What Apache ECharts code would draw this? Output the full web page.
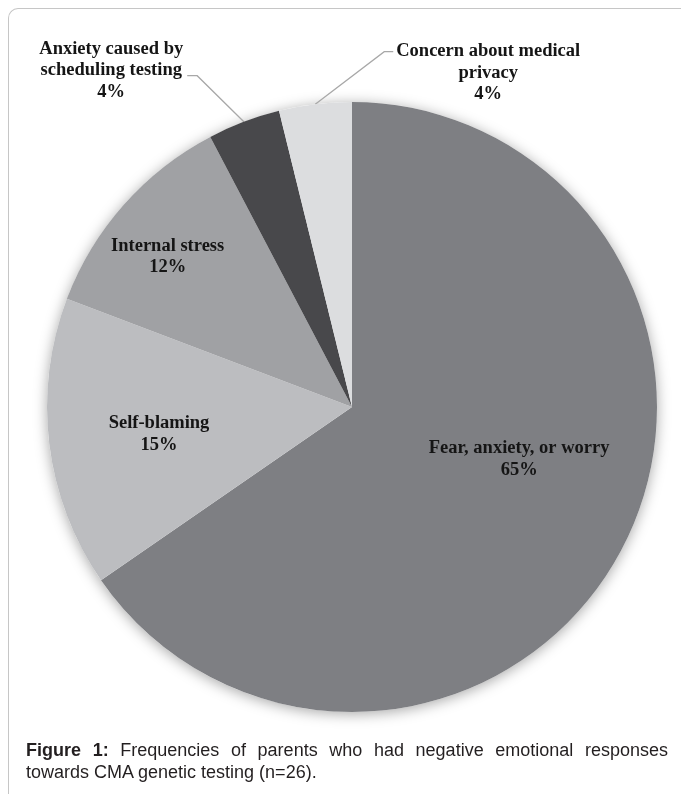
<!DOCTYPE html>
<html>
<head>
<meta charset="utf-8">
<script src="https://cdn.jsdelivr.net/npm/echarts@6/dist/echarts.min.js"></script>
<style>
html,body{margin:0;padding:0;background:#fff;overflow:hidden;}
#frame{position:absolute;left:8px;top:8px;width:720px;height:820px;border-top:1px solid #c6c6c6;border-left:1px solid #c6c6c6;border-top-left-radius:10px;}
#chart{position:absolute;left:0;top:0;width:681px;height:794px;}
#caption{position:absolute;left:26px;top:739px;width:642px;font-family:'Liberation Sans',Arial,sans-serif;font-size:18px;line-height:22px;text-align:justify;color:#231f20;}
</style>
</head>
<body>
<div id="frame"></div>
<div id="chart"></div>
<div id="caption"><b>Figure 1:</b> Frequencies of parents who had negative emotional responses towards CMA genetic testing (n=26).</div>
<script>
// Data
const categories = ['Fear, anxiety, or worry', 'Self-blaming', 'Internal stress', 'Anxiety caused by\nscheduling testing', 'Concern about medical\nprivacy'];
const counts = [17, 4, 3, 1, 1];
const sliceColors = ['#7e7f83', '#bcbdc0', '#a0a1a4', '#48484b', '#dcdddf'];
const outsideLabel = [false, false, false, true, true];
// label placement: [angle in degrees, distance as fraction of radius]
const labelPolar = [[-17.3, 0.574], [188, 0.639], [140.8, 0.78], [125.6, 1.356], [67.8, 1.182]];

const CX = 352, CY = 407, R = 305;
const LH = 21.5;

const chart = echarts.init(document.getElementById('chart'), null, {renderer: 'canvas'});

const pieData = categories.map((name, i) => ({
  name: name,
  value: counts[i],
  itemStyle: {color: sliceColors[i]},
  label: {position: outsideLabel[i] ? 'outside' : 'inside'},
  labelLine: {show: outsideLabel[i]}
}));

chart.setOption({
  animation: false,
  series: [
    {
      type: 'pie',
      silent: true,
      center: [CX, CY],
      radius: [0, R],
      label: {show: false},
      labelLine: {show: false},
      itemStyle: {color: '#ffffff', shadowBlur: 14, shadowColor: 'rgba(0,0,0,0.35)', shadowOffsetY: 2},
      data: [{value: 1, name: ''}],
      z: 1
    },
    {
      type: 'pie',
      center: [CX, CY],
      radius: [0, R],
      startAngle: 90,
      clockwise: true,
      avoidLabelOverlap: false,
      z: 2,
      itemStyle: {borderWidth: 0},
      label: {
        show: true,
        fontFamily: 'Liberation Serif',
        fontWeight: 'bold',
        fontSize: 18.5,
        lineHeight: LH,
        color: '#151515',
        align: 'center',
        formatter: p => p.name + '\n' + Math.round(p.percent) + '%'
      },
      labelLine: {
        length: 10, length2: 10,
        lineStyle: {color: '#a8a8a8', width: 1.3}
      },
      labelLayout: function (p) {
        const i = p.dataIndex;
        const a = labelPolar[i][0] * Math.PI / 180;
        const fr = labelPolar[i][1];
        const x = CX + fr * R * Math.cos(a);
        const y = CY - fr * R * Math.sin(a);
        const out = {x: x, y: y, align: 'center', verticalAlign: 'middle'};
        if (outsideLabel[i] && p.labelLinePoints) {
          const p0 = p.labelLinePoints[0];
          const w = p.labelRect.width;
          if (p0[0] < x) {
            const sy = y - LH;
            out.labelLinePoints = [p0, [x - w / 2 - 12, sy], [x - w / 2 - 3, sy]];
          } else {
            const sy = y + 5;
            out.labelLinePoints = [p0, [x + w / 2 + 14, sy], [x + w / 2 + 4, sy]];
          }
        }
        return out;
      },
      data: pieData
    }
  ]
});
</script>
</body>
</html>
